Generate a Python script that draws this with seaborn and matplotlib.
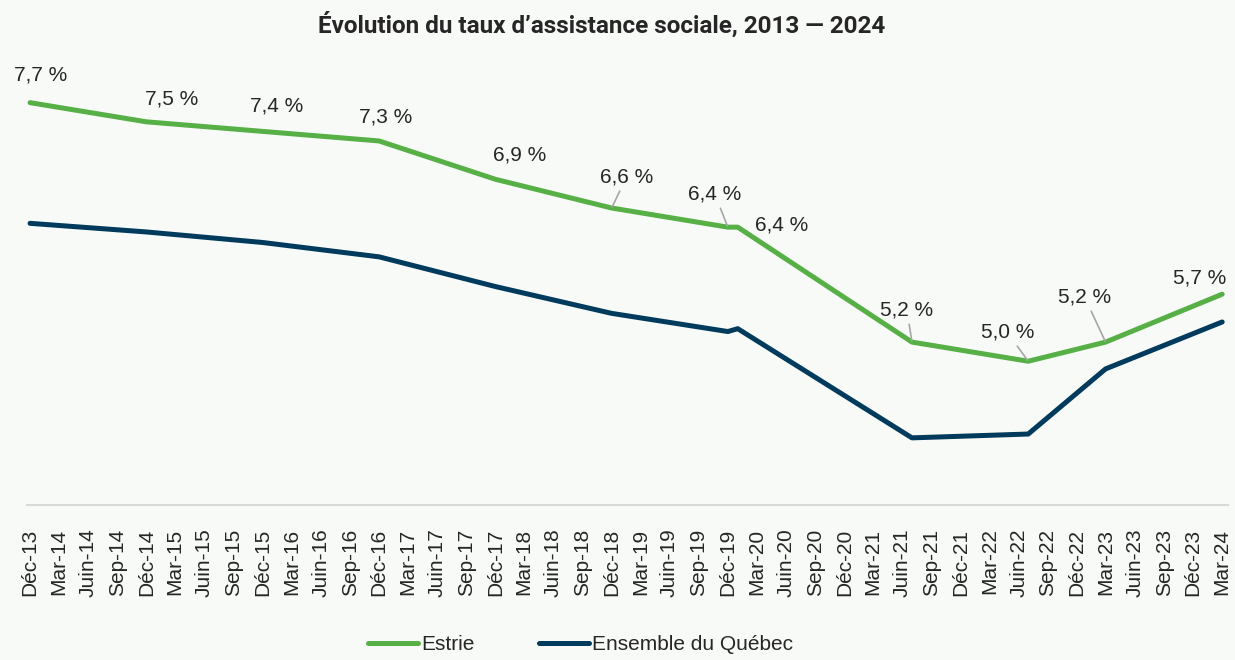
import pandas as pd
import matplotlib
matplotlib.use("Agg")
import matplotlib.pyplot as plt
import seaborn as sns

# Données (taux en %)
dates = ['2013-12-01', '2014-12-01', '2015-12-01', '2016-12-01', '2017-12-01', '2018-12-01',
         '2019-12-01', '2020-01-01', '2021-07-01', '2022-07-01', '2023-03-01', '2024-03-01']
estrie = [7.7, 7.5, 7.4, 7.3, 6.9, 6.6, 6.4, 6.4, 5.2, 5.0, 5.2, 5.7]
quebec = [6.44, 6.35, 6.24, 6.09, 5.78, 5.50, 5.31, 5.34, 4.20, 4.24, 4.92, 5.41]
series_names = ['Estrie', 'Ensemble du Québec']
month_abbr = {12: 'Déc', 3: 'Mar', 6: 'Juin', 9: 'Sep'}

# décalages des étiquettes (pixels) et lignes de rappel
label_offsets = [(11, 28), (25, 23), (14, 25), (7, 24), (24, 24), (15, 31),
                 (-13, 33), (44, 2), (-5, 32), (-21, 29), (-21, 45), (-23, 16)]
leader = [False, False, False, False, False, True, True, False, True, True, True, False]

df = pd.DataFrame({
    'date': pd.to_datetime(dates * 2),
    'taux': estrie + quebec,
    'region': [series_names[0]] * len(estrie) + [series_names[1]] * len(quebec),
})

bg = '#f8faf7'
green = '#56b046'
navy = '#003a5c'
txt = '#262626'

sns.set_theme(style='white')
plt.rcParams['font.family'] = ['Liberation Sans', 'DejaVu Sans']

fig = plt.figure(figsize=(12.35, 6.6), dpi=100, facecolor=bg)
ax = fig.add_axes([0.022, 0.235, 0.972, 0.653])
ax.set_facecolor(bg)

sns.lineplot(ax=ax, data=df, x='date', y='taux', hue='region',
             palette={series_names[0]: green, series_names[1]: navy},
             linewidth=3.6, solid_capstyle='round', legend=False)

# étiquettes de données Estrie
for d, v, off, ld in zip(pd.to_datetime(dates), estrie, label_offsets, leader):
    lab = f"{v:.1f} %".replace('.', ',')
    ap = dict(arrowstyle='-', color='#a6a6a6', lw=1.2, shrinkA=1, shrinkB=1) if ld else None
    ax.annotate(lab, xy=(d, v), xytext=off, textcoords='offset pixels',
                ha='center', va='center', fontsize=15, color=txt, arrowprops=ap)

ticks = pd.date_range('2013-12-01', '2024-03-01', freq='3MS')
ax.set_xticks(ticks)
ax.set_xticklabels([f"{month_abbr[t.month]}-{t.strftime('%y')}" for t in ticks],
                   rotation=90, fontsize=15, color=txt)
ax.tick_params(axis='x', length=0, pad=17)
ax.set_xlim(pd.Timestamp('2013-11-22'), pd.Timestamp('2024-03-18'))
ax.set_ylim(3.5, 8.0)
ax.set_yticks([])
ax.set_xlabel('')
ax.set_ylabel('')
for s in ['top', 'left', 'right']:
    ax.spines[s].set_visible(False)
ax.spines['bottom'].set_color('#d9d9d9')
ax.spines['bottom'].set_linewidth(1.5)

fig.suptitle('Évolution du taux d’assistance sociale, 2013 — 2024', x=0.4875, y=0.962,
             va='center', fontsize=17.5, fontweight='bold', color=txt,
             family=['Roboto', 'DejaVu Sans'])

handles = [plt.Line2D([], [], color=green, lw=3.6, solid_capstyle='round'),
           plt.Line2D([], [], color=navy, lw=3.6, solid_capstyle='round')]
fig.legend(handles, series_names, loc='center', bbox_to_anchor=(0.470, 0.023), ncol=2,
           frameon=False, fontsize=15, handlelength=2.4, handletextpad=0.15,
           columnspacing=3.1, labelcolor=txt)

fig.savefig('out.png', dpi=100, facecolor=bg)
